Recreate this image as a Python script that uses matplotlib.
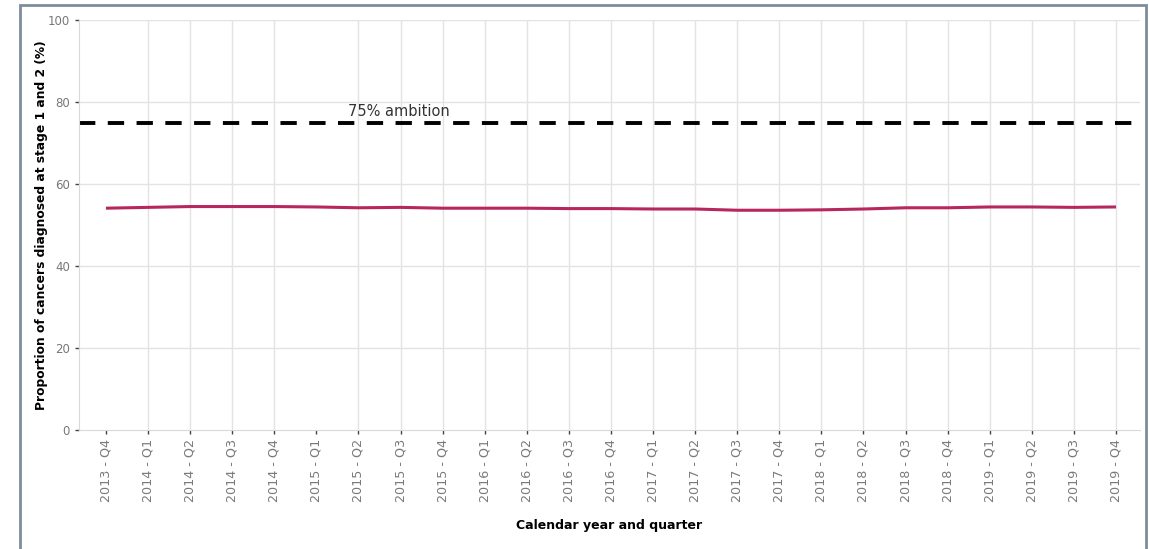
import matplotlib
matplotlib.use("Agg")
import matplotlib.pyplot as plt
from matplotlib.patches import Rectangle

# quarters shown on the x axis
quarters = [
    "2013 - Q4",
    "2014 - Q1", "2014 - Q2", "2014 - Q3", "2014 - Q4",
    "2015 - Q1", "2015 - Q2", "2015 - Q3", "2015 - Q4",
    "2016 - Q1", "2016 - Q2", "2016 - Q3", "2016 - Q4",
    "2017 - Q1", "2017 - Q2", "2017 - Q3", "2017 - Q4",
    "2018 - Q1", "2018 - Q2", "2018 - Q3", "2018 - Q4",
    "2019 - Q1", "2019 - Q2", "2019 - Q3", "2019 - Q4",
]
# proportion diagnosed at stage 1 and 2 (%)
early_stage = [
    54.1,
    54.3, 54.5, 54.5, 54.5,
    54.4, 54.2, 54.3, 54.1,
    54.1, 54.1, 54.0, 54.0,
    53.9, 53.9, 53.6, 53.6,
    53.7, 53.9, 54.2, 54.2,
    54.4, 54.4, 54.3, 54.4,
]
ambition = 75
ambition_label = "75% ambition"
# quarters whose vertical gridline is not drawn in the original
no_grid = ["2013 - Q4", "2015 - Q1"]

fig = plt.figure(figsize=(11.49, 5.49), dpi=100)
# outer grey frame
fig.patches.append(Rectangle((20 / 1149, -0.01), 1126 / 1149, 1 - 5 / 549 + 0.01,
                             transform=fig.transFigure, fill=False,
                             edgecolor="#7f8c99", lw=2))

ax = fig.add_axes([79 / 1149, 1 - 430 / 549, (1140 - 79) / 1149, 410 / 549])
x = list(range(len(quarters)))

ax.set_xlim(-0.64, 24.57)
ax.set_ylim(0, 100)

# grid
for v in [20, 40, 60, 80, 100]:
    ax.axhline(v, color="#e3e3e3", lw=1, zorder=0)
for i, q in enumerate(quarters):
    if q not in no_grid:
        ax.axvline(i, color="#e3e3e3", lw=1, zorder=0)

ax.axhline(ambition, color="black", lw=2.8, dashes=(4.2, 3.2), zorder=2)
ax.text(5.75, ambition + 0.9, ambition_label, fontsize=10.5, color="#333333",
        ha="left", va="bottom")

ax.plot(x, early_stage, color="#b8265e", lw=2.2, zorder=4,
        solid_capstyle="butt")

for s in ["top", "right"]:
    ax.spines[s].set_visible(False)
ax.spines["left"].set_color("#d9d9d9")
ax.spines["bottom"].set_color("#d9d9d9")

ax.set_yticks([0, 20, 40, 60, 80, 100])
ax.set_xticks(x)
ax.set_xticklabels(quarters, rotation=90)
ax.tick_params(axis="both", colors="#444444", length=3, width=1)
ax.tick_params(axis="y", labelsize=8.5, labelcolor="#777777")
ax.tick_params(axis="x", labelsize=9.2, labelcolor="#7a7a7a")

ax.set_ylabel("Proportion of cancers diagnosed at stage 1 and 2 (%)",
              fontsize=8.8, fontweight="bold")
ax.yaxis.set_label_coords(-0.029, 0.5)
ax.set_xlabel("Calendar year and quarter", fontsize=9, fontweight="bold",
              labelpad=12)

fig.savefig("out.png", dpi=100)
